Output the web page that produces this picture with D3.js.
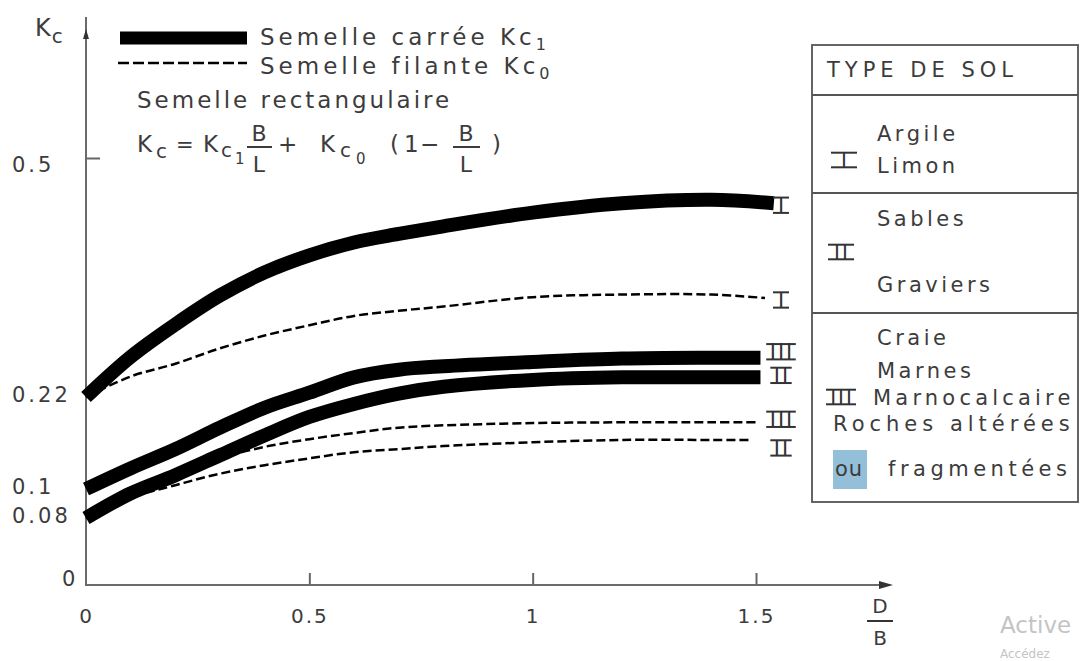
<!DOCTYPE html>
<meta charset="utf-8">
<script src="https://d3js.org/d3.v7.min.js"></script>
<style>
  body { margin: 0; background: #fff; }
  text { font-family: "DejaVu Sans", sans-serif; fill: #3c3c3c; }
  .roman { fill: #333; }
</style>
<div id="chart"></div>
<script>

// D/B values at which the curves were read
var dOverB = [0, 0.1, 0.2, 0.3, 0.4, 0.5, 0.6, 0.7, 0.8, 1.0, 1.2, 1.4];
// last D/B of each curve (same order as the series below)
var dOverBEnd = [1.54, 1.52, 1.51, 1.51, 1.50, 1.49];

// Kc1 = semelle carree (thick), Kc0 = semelle filante (dashed)
var kc1_I   = [0.22, 0.267, 0.305, 0.339, 0.366, 0.386, 0.401, 0.411, 0.420, 0.436, 0.447, 0.451, 0.447];
var kc0_I   = [0.22, 0.244, 0.259, 0.277, 0.292, 0.304, 0.315, 0.321, 0.326, 0.337, 0.340, 0.340, 0.336];
var kc1_III = [0.10, 0.127, 0.152, 0.180, 0.206, 0.225, 0.243, 0.252, 0.256, 0.261, 0.265, 0.266, 0.266];
var kc1_II  = [0.08, 0.097, 0.118, 0.144, 0.170, 0.194, 0.211, 0.224, 0.232, 0.240, 0.243, 0.243, 0.243];
var kc0_III = [0.08, 0.095, 0.117, 0.140, 0.155, 0.165, 0.173, 0.180, 0.183, 0.186, 0.187, 0.187, 0.187];
var kc0_II  = [0.08, 0.094, 0.105, 0.120, 0.131, 0.140, 0.148, 0.152, 0.156, 0.161, 0.164, 0.164, 0.164];

var seriesValues = [kc1_I, kc0_I, kc1_III, kc1_II, kc0_III, kc0_II];
var seriesKind   = ["carree", "filante", "carree", "carree", "filante", "filante"];
var seriesSoil   = ["I", "I", "III", "II", "III", "II"];

var yTicks = [0, 0.08, 0.1, 0.22, 0.5];
var yTickLabels = ["0", "0.08", "0.1", "0.22", "0.5"];
var xTicks = [0, 0.5, 1, 1.5];
var xTickLabels = ["0", "0.5", "1", "1.5"];

var width = 1083, height = 661;

var svg = d3.select("#chart")
    .append("svg")
    .attr("width", width)
    .attr("height", height);

// scales (the drawing's y axis is not strictly linear around 0.1)
var x = d3.scaleLinear().domain([0, 1.5]).range([86, 756]);
var y = d3.scaleLinear().domain(yTicks).range([585, 518, 489, 397, 158]);

// roman numeral with the bars above and below, like the drawing
function roman(g, xc, yc, s, fs, minW) {
    var t = g.append("text")
        .attr("class", "roman")
        .attr("x", xc + 1)
        .attr("y", yc + 0.365 * fs)
        .attr("text-anchor", "middle")
        .style("font-size", fs + "px")
        .style("letter-spacing", "2px")
        .text(s);
    var w = t.node().getComputedTextLength();
    var bw = Math.max(w + 5, minW);
    [yc - 0.365 * fs, yc + 0.365 * fs].forEach(function(yy) {
        g.append("line")
            .attr("x1", xc - bw / 2).attr("x2", xc + bw / 2)
            .attr("y1", yy).attr("y2", yy)
            .attr("stroke", "#333").attr("stroke-width", 2);
    });
}

// ---- axes
var xAxis = svg.append("g")
    .attr("transform", "translate(0,585)")
    .call(d3.axisBottom(x).tickValues(xTicks).tickSizeInner(-12).tickSizeOuter(0).tickPadding(24)
          .tickFormat(function(d, i) { return xTickLabels[i]; }));
xAxis.select(".domain").remove();
xAxis.selectAll(".tick line").attr("stroke", "#666").attr("stroke-width", 2)
    .style("opacity", function(d) { return d === 0 ? 0 : 1; });
xAxis.selectAll(".tick text").style("font-family", "DejaVu Sans").style("font-size", "20px")
    .attr("fill", "#3c3c3c").style("letter-spacing", "2px");

var yAxis = svg.append("g")
    .attr("transform", "translate(86,0)")
    .call(d3.axisLeft(y).tickValues(yTicks).tickSizeInner(-14).tickSizeOuter(0)
          .tickFormat(function(d, i) { return yTickLabels[i]; }));
yAxis.select(".domain").remove();
yAxis.selectAll(".tick line").attr("stroke", "#666").attr("stroke-width", 2)
    .style("opacity", function(d) { return d === 0.5 ? 1 : 0; });
yAxis.selectAll(".tick text")
    .attr("text-anchor", "start")
    .attr("x", function(d) { return d === 0 ? -24 : -74; })
    .attr("dy", function(d) { return d === 0 ? "0" : d === 0.5 ? "0.62em" : "0.2em"; })
    .style("font-family", "DejaVu Sans").style("font-size", "21px")
    .attr("fill", "#3c3c3c").style("letter-spacing", "3px");

// axis lines with arrows
svg.append("line").attr("x1", 86).attr("y1", 17).attr("x2", 86).attr("y2", 586)
    .attr("stroke", "#6a6a6a").attr("stroke-width", 2);
svg.append("line").attr("x1", 85).attr("y1", 585).attr("x2", 884).attr("y2", 585)
    .attr("stroke", "#6a6a6a").attr("stroke-width", 2);
svg.append("path").attr("d", "M893,585 L879,581 L879,589 Z").attr("fill", "#333");
svg.append("path").attr("d", "M86,29 L83,39 L89,39 Z").attr("fill", "#333");

// Kc label
var kc = svg.append("text").attr("x", 35).attr("y", 36).style("font-size", "24px");
kc.append("tspan").text("K");
kc.append("tspan").attr("dx", 1).attr("dy", 7).style("font-size", "20px").text("c");

// D/B label
svg.append("text").attr("x", 880).attr("y", 613).attr("text-anchor", "middle").style("font-size", "20px").text("D");
svg.append("line").attr("x1", 867).attr("x2", 893).attr("y1", 621).attr("y2", 621).attr("stroke", "#333").attr("stroke-width", 2);
svg.append("text").attr("x", 880).attr("y", 645).attr("text-anchor", "middle").style("font-size", "20px").text("B");

// ---- curves
var line = d3.line()
    .x(function(d) { return x(d[0]); })
    .y(function(d) { return y(d[1]); })
    .curve(d3.curveCatmullRom.alpha(0.5));

var series = seriesValues.map(function(vals, i) {
    var xs = dOverB.concat([dOverBEnd[i]]);
    return { kind: seriesKind[i], soil: seriesSoil[i],
             points: vals.map(function(v, j) { return [xs[j], v]; }) };
});

// dashed first, thick on top
var order = series.filter(function(s) { return s.kind === "filante"; })
    .concat(series.filter(function(s) { return s.kind === "carree"; }));

svg.selectAll(".curve")
    .data(order)
    .enter()
    .append("path")
    .attr("class", "curve")
    .attr("fill", "none")
    .attr("stroke", "#000")
    .attr("stroke-linejoin", "round")
    .attr("stroke-width", function(d) { return d.kind === "carree" ? 14 : 2.5; })
    .attr("stroke-dasharray", function(d) { return d.kind === "carree" ? null : "9,4"; })
    .attr("d", function(d) { return line(d.points); });

// soil type marks at the end of each curve (small nudges keep them apart)
var endNudge = [2, 2, -6, -2, -3, 8];
var endMarks = svg.append("g");
series.forEach(function(s, i) {
    var last = s.points[s.points.length - 1];
    roman(endMarks, 781, y(last[1]) + endNudge[i], s.soil, 21, 16);
});

// ---- legend
svg.append("line").attr("x1", 120).attr("x2", 247).attr("y1", 38).attr("y2", 38)
    .attr("stroke", "#000").attr("stroke-width", 13);
svg.append("line").attr("x1", 118).attr("x2", 247).attr("y1", 63).attr("y2", 63)
    .attr("stroke", "#000").attr("stroke-width", 2.5).attr("stroke-dasharray", "11,4");

var l1 = svg.append("text").attr("x", 260).attr("y", 45).style("font-size", "23px").style("letter-spacing", "4px");
l1.append("tspan").text("Semelle carrée Kc");
l1.append("tspan").attr("dy", 5).style("font-size", "16px").text("1");
var l2 = svg.append("text").attr("x", 260).attr("y", 74).style("font-size", "23px").style("letter-spacing", "4px");
l2.append("tspan").text("Semelle filante Kc");
l2.append("tspan").attr("dy", 5).style("font-size", "16px").text("0");
svg.append("text").attr("x", 137).attr("y", 108).style("font-size", "23px").style("letter-spacing", "3px")
    .text("Semelle rectangulaire");

// formula Kc = Kc1 B/L + Kc0 (1 - B/L)
function ft(xp, yp, s, size, anchor) {
    svg.append("text").attr("x", xp).attr("y", yp).style("font-size", (size || 23) + "px")
        .attr("text-anchor", anchor || "start").text(s);
}
ft(137, 152, "K"); ft(156, 158, "c", 20);
ft(176, 152, "=", 21);
ft(203, 152, "K"); ft(221, 157, "c", 20); ft(235, 164, "1", 15);
ft(259, 141, "B", 22, "middle"); ft(259, 172, "L", 22, "middle");
svg.append("line").attr("x1", 247).attr("x2", 272).attr("y1", 147).attr("y2", 147).attr("stroke", "#3c3c3c").attr("stroke-width", 2);
ft(278, 152, "+");
ft(320, 152, "K"); ft(340, 157, "c", 20); ft(356, 164, "0", 15);
ft(390, 152, "("); ft(404, 152, "1"); ft(420, 152, "−");
ft(466, 141, "B", 22, "middle"); ft(466, 172, "L", 22, "middle");
svg.append("line").attr("x1", 453).attr("x2", 480).attr("y1", 147).attr("y2", 147).attr("stroke", "#3c3c3c").attr("stroke-width", 2);
ft(492, 152, ")");

// ---- soil type table
var tbl = svg.append("g");
tbl.append("rect").attr("x", 812).attr("y", 45).attr("width", 266).attr("height", 457)
    .attr("fill", "none").attr("stroke", "#555").attr("stroke-width", 1.8);
[95, 193, 313].forEach(function(yy) {
    tbl.append("line").attr("x1", 812).attr("x2", 1078).attr("y1", yy).attr("y2", yy)
        .attr("stroke", "#555").attr("stroke-width", 1.8);
});
tbl.append("rect").attr("x", 833).attr("y", 450).attr("width", 34).attr("height", 39).attr("fill", "#93bfd9");

function tt(xp, yp, s, ls) {
    tbl.append("text").attr("x", xp).attr("y", yp).attr("dy", "0.36em")
        .style("font-size", "21px")
        .style("letter-spacing", (ls == null ? 3.5 : ls) + "px")
        .text(s);
}
tt(827, 69, "TYPE DE SOL", 5);
roman(tbl, 844, 160, "I", 20, 26);
tt(877, 133, "Argile"); tt(877, 165, "Limon");
tt(877, 218, "Sables"); roman(tbl, 841, 252, "II", 20, 26); tt(877, 284, "Graviers");
tt(877, 337, "Craie"); tt(877, 370, "Marnes");
roman(tbl, 841, 397, "III", 20, 30); tt(873, 397, "Marnocalcaire", 4.2);
tt(833, 423, "Roches altérées", 5);
tt(835, 468, "ou", 1); tt(888, 468, "fragmentées", 4.5);

// faint screen watermark in the corner
svg.append("text").attr("x", 1000).attr("y", 633).style("font-size", "23px").style("fill", "#c4c4c4").text("Active");
svg.append("text").attr("x", 1000).attr("y", 658).style("font-size", "12px").style("fill", "#c4c4c4").text("Accédez");

</script>
